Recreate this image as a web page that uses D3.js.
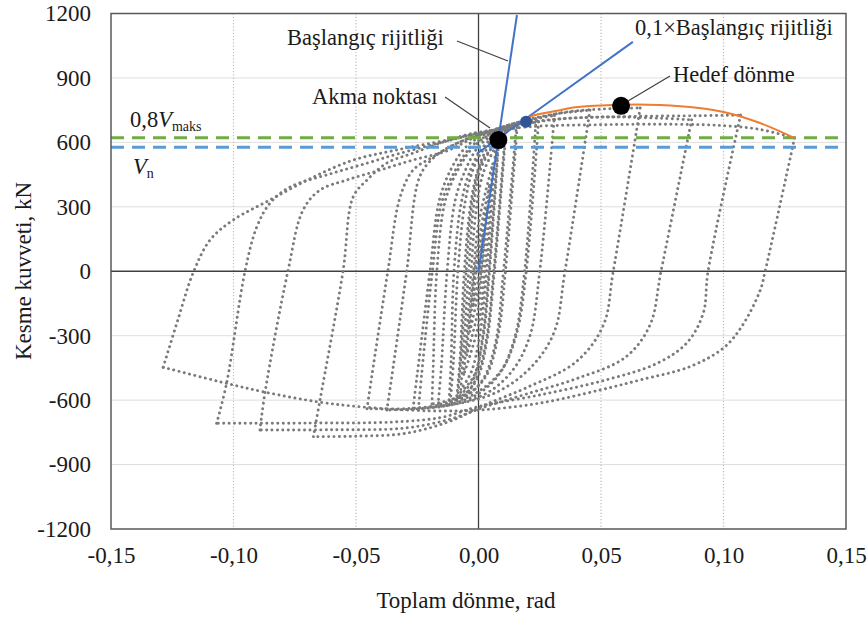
<!DOCTYPE html>
<html>
<head>
<meta charset="utf-8">
<script src="https://cdn.jsdelivr.net/npm/d3@7"></script>
<style>
  body { margin: 0; background: #fff; }
  text { font-family: "Liberation Serif", "Times New Roman", serif; fill: #1a1a1a; }
</style>
</head>
<body>
<div id="chart"></div>
<script>
// axis ticks
var xTicks = [-0.15, -0.10, -0.05, 0, 0.05, 0.10, 0.15];
var yTicks = [-1200, -900, -600, -300, 0, 300, 600, 900, 1200];

// reloading branches (negative peak -> next positive peak), [rotation rad, shear kN]
var reloadBranches = [
    [[0, 0], [0.002, 170]],
    [[-0.0022, -160], [-0.001, 0], [0.0032, 290]],
    [[-0.0035, -280], [-0.0015, 0], [0.001, 200], [0.0045, 400]],
    [[-0.0048, -390], [-0.0035, -200], [-0.002, 0], [0, 220], [0.0058, 500]],
    [[-0.006, -480], [-0.0045, -250], [-0.003, 0], [-0.001, 280], [0.002, 460], [0.007, 580]],
    [[-0.0072, -550], [-0.006, -350], [-0.004, 0], [-0.002, 300], [0.001, 480], [0.0082, 625]],
    [[-0.0085, -590], [-0.007, -380], [-0.005, 0], [-0.0025, 330], [0.001, 500], [0.0083, 615]],
    [[-0.0088, -580], [-0.0075, -400], [-0.0058, 0], [-0.003, 330], [0, 480], [0.004, 580], [0.011, 655]],
    [[-0.0115, -605], [-0.0102, -420], [-0.0084, 0], [-0.0055, 320], [-0.002, 480], [0.003, 580], [0.0112, 645]],
    [[-0.012, -598], [-0.0112, -420], [-0.0100, 0], [-0.007, 320], [-0.003, 480], [0.002, 580], [0.008, 640], [0.0155, 680]],
    [[-0.0165, -620], [-0.0152, -450], [-0.0128, 0], [-0.0095, 330], [-0.005, 480], [0, 580], [0.007, 640], [0.0158, 670]],
    [[-0.019, -618], [-0.0185, -450], [-0.017, 0], [-0.0135, 330], [-0.008, 480], [-0.002, 580], [0.006, 645], [0.015, 685], [0.0235, 705]],
    [[-0.0245, -640], [-0.0232, -480], [-0.0188, 0], [-0.015, 320], [-0.009, 480], [-0.003, 580], [0.005, 640], [0.015, 680], [0.0245, 695]],
    [[-0.0267, -638], [-0.025, -480], [-0.0198, 0], [-0.016, 330], [-0.011, 480], [-0.005, 580], [0.003, 640], [0.015, 690], [0.031, 725]],
    [[-0.0374, -646], [-0.0355, -500], [-0.0293, 0], [-0.024, 440], [-0.018, 532], [-0.01, 590], [0, 635], [0.015, 690], [0.03, 730], [0.0455, 750]],
    [[-0.0455, -640], [-0.0437, -500], [-0.037, 0], [-0.032, 345], [-0.0267, 471], [-0.0186, 532], [-0.008, 600], [0.005, 650], [0.02, 700], [0.035, 740], [0.05, 755], [0.066, 760]],
    [[-0.0674, -770], [-0.0647, -600], [-0.0553, 0], [-0.0512, 345], [-0.0455, 425], [-0.0374, 504], [-0.0267, 550], [-0.012, 610], [0.003, 650], [0.025, 700], [0.05, 718], [0.075, 712], [0.087, 705]],
    [[-0.0892, -739], [-0.0871, -561], [-0.0778, 0], [-0.0716, 285], [-0.0647, 378], [-0.0537, 425], [-0.0402, 471], [-0.0267, 518], [-0.013, 560], [0.002, 640], [0.03, 705], [0.06, 720], [0.09, 724], [0.107, 727]],
    [[-0.1069, -708], [-0.1028, -521], [-0.0953, 0], [-0.0905, 206], [-0.0851, 317], [-0.077, 392], [-0.06, 455], [-0.045, 505], [-0.0333, 545], [-0.015, 600], [0, 640], [0.02, 672], [0.05, 682], [0.08, 684], [0.1, 678], [0.115, 660], [0.129, 620]],
    [[-0.1287, -447], [-0.1228, -230], [-0.1165, -8], [-0.1096, 145], [-0.1002, 238], [-0.0851, 332], [-0.0675, 438], [-0.051, 518], [-0.0333, 565], [-0.0129, 611], [-0.002, 643], [0.008, 660]]
];

// unloading branches (positive peak -> negative peak)
var unloadBranches = [
    [[0.002, 170], [0.0005, 0], [-0.0022, -160]],
    [[0.0032, 290], [0.001, 0], [-0.001, -150], [-0.0035, -280]],
    [[0.0045, 400], [0.0015, 0], [-0.0005, -200], [-0.0048, -390]],
    [[0.0058, 500], [0.0025, 0], [0, -250], [-0.006, -480]],
    [[0.007, 580], [0.0033, 0], [0.0005, -300], [-0.003, -470], [-0.0072, -550]],
    [[0.0082, 625], [0.0042, 0], [0.0015, -320], [-0.002, -500], [-0.0085, -590]],
    [[0.0083, 615], [0.0045, 0], [0.002, -300], [-0.002, -490], [-0.0088, -580]],
    [[0.011, 655], [0.0062, 0], [0.003, -330], [-0.001, -500], [-0.006, -580], [-0.0115, -605]],
    [[0.0112, 645], [0.0065, 0], [0.0035, -320], [-0.0005, -500], [-0.006, -575], [-0.012, -598]],
    [[0.0155, 680], [0.0102, 0], [0.007, -330], [0.002, -500], [-0.005, -580], [-0.0165, -620]],
    [[0.0158, 670], [0.011, 0], [0.008, -300], [0.003, -490], [-0.005, -575], [-0.019, -618]],
    [[0.0235, 705], [0.0188, 0], [0.015, -300], [0.009, -470], [0, -570], [-0.012, -620], [-0.0245, -640]],
    [[0.0245, 695], [0.0195, 0], [0.0158, -280], [0.01, -450], [0, -560], [-0.012, -615], [-0.0267, -638]],
    [[0.031, 725], [0.025, 0], [0.021, -300], [0.014, -460], [0.003, -570], [-0.015, -630], [-0.0374, -646]],
    [[0.0455, 750], [0.0353, 0], [0.031, -280], [0.022, -440], [0.008, -560], [-0.01, -620], [-0.03, -640], [-0.0455, -640]],
    [[0.066, 760], [0.055, 0], [0.051, -250], [0.04, -420], [0.02, -540], [0.003, -620], [-0.012, -700], [-0.03, -755], [-0.05, -768], [-0.0674, -770]],
    [[0.087, 705], [0.0745, 0], [0.07, -250], [0.06, -400], [0.04, -500], [0.02, -570], [0.003, -630], [-0.012, -690], [-0.03, -730], [-0.06, -738], [-0.0892, -739]],
    [[0.107, 727], [0.0937, 0], [0.0917, -196], [0.085, -334], [0.073, -428], [0.052, -506], [0.025, -576], [0, -630], [-0.015, -680], [-0.035, -702], [-0.07, -707], [-0.1069, -708]],
    [[0.129, 620], [0.117, 0], [0.115, -88], [0.1074, -258], [0.0999, -358], [0.0863, -444], [0.066, -506], [0.0496, -553], [0.025, -614], [0.0006, -646], [-0.02, -650], [-0.047, -632], [-0.065, -609], [-0.0875, -562], [-0.105, -516], [-0.1287, -447]]
];

// backbone (orange) from 0.1x stiffness point to target limit
var envelope = [[0.0194, 696], [0.021, 719], [0.0333, 750], [0.0386, 762], [0.055, 774], [0.074, 774], [0.09, 760], [0.1014, 738], [0.1149, 690], [0.129, 620]];
var initialStiffness = [[0, 0], [0.0157, 1193]];
var tenthStiffness = [[-0.0007, 547], [0.063, 1068]];
var stiffnessPoint = [0.0194, 696];
var yieldPoint = [0.0081, 611];
var targetPoint = [0.0582, 770];
var vMaks08 = 622;
var vN = 577;

var serif = '"Liberation Serif", "Times New Roman", serif';

var margin = { top: 13.5, right: 21, bottom: 88, left: 111 },
    width = 867 - margin.left - margin.right,
    height = 617 - margin.top - margin.bottom;

var svg = d3.select("#chart").append("svg")
    .attr("width", 867)
    .attr("height", 617)
    .append("g")
    .attr("transform", "translate(" + margin.left + "," + margin.top + ")");

var x = d3.scaleLinear().domain([-0.15, 0.15]).range([0, width]);
var y = d3.scaleLinear().domain([-1200, 1200]).range([height, 0]);

// grid
svg.selectAll(".hgrid")
    .data(yTicks.filter(function (d) { return d != 0 && Math.abs(d) != 1200; }))
    .enter().append("line")
    .attr("x1", 0).attr("x2", width)
    .attr("y1", function (d) { return y(d); })
    .attr("y2", function (d) { return y(d); })
    .attr("stroke", "#dedede").attr("stroke-width", 1);

svg.selectAll(".vgrid")
    .data(xTicks.filter(function (d) { return d != 0 && Math.abs(d) < 0.15; }))
    .enter().append("line")
    .attr("y1", 0).attr("y2", height)
    .attr("x1", function (d) { return x(d); })
    .attr("x2", function (d) { return x(d); })
    .attr("stroke", "#bdbdbd").attr("stroke-width", 1.2)
    .attr("stroke-dasharray", "1.2,2");

// zero axes
svg.append("line").attr("x1", 0).attr("x2", width).attr("y1", y(0)).attr("y2", y(0))
    .attr("stroke", "#404040").attr("stroke-width", 1.3);
svg.append("line").attr("x1", x(0)).attr("x2", x(0)).attr("y1", 0).attr("y2", height)
    .attr("stroke", "#404040").attr("stroke-width", 1.3);

// hysteresis loops
var line = d3.line()
    .x(function (d) { return x(d[0]); })
    .y(function (d) { return y(d[1]); })
    .curve(d3.curveCatmullRom.alpha(0.5));

svg.selectAll(".branch")
    .data(reloadBranches.concat(unloadBranches))
    .enter().append("path")
    .attr("d", line)
    .attr("fill", "none")
    .attr("stroke", "#7a7a7a")
    .attr("stroke-width", 2.9)
    .attr("stroke-linecap", "round")
    .attr("stroke-dasharray", "0.1,5.3");

// limit lines
svg.append("line").attr("x1", 0).attr("x2", width).attr("y1", y(vMaks08)).attr("y2", y(vMaks08))
    .attr("stroke", "#70AD47").attr("stroke-width", 3).attr("stroke-dasharray", "13,8");
svg.append("line").attr("x1", 0).attr("x2", width).attr("y1", y(vN)).attr("y2", y(vN))
    .attr("stroke", "#5B9BD5").attr("stroke-width", 3).attr("stroke-dasharray", "13,8");

// stiffness lines
var straight = d3.line().x(function (d) { return x(d[0]); }).y(function (d) { return y(d[1]); });
svg.append("path").attr("d", straight(initialStiffness))
    .attr("fill", "none").attr("stroke", "#4472C4").attr("stroke-width", 2);
svg.append("path").attr("d", straight(tenthStiffness))
    .attr("fill", "none").attr("stroke", "#4472C4").attr("stroke-width", 2);

// envelope
svg.append("path").attr("d", line(envelope))
    .attr("fill", "none").attr("stroke", "#ED7D31").attr("stroke-width", 2);

svg.append("circle").attr("cx", x(stiffnessPoint[0])).attr("cy", y(stiffnessPoint[1]))
    .attr("r", 6).attr("fill", "#2F5597");
svg.append("circle").attr("cx", x(yieldPoint[0])).attr("cy", y(yieldPoint[1]))
    .attr("r", 9).attr("fill", "#000");
svg.append("circle").attr("cx", x(targetPoint[0])).attr("cy", y(targetPoint[1]))
    .attr("r", 9).attr("fill", "#000");

// plot frame
svg.append("rect").attr("width", width).attr("height", height)
    .attr("fill", "none").attr("stroke", "#595959").attr("stroke-width", 1.5);

// axes
function comma(d) { return d3.format(".2f")(d).replace("\u2212", "-").replace(".", ","); }

var yAxis = svg.append("g")
    .call(d3.axisLeft(y).tickValues(yTicks).tickSize(0).tickPadding(20)
        .tickFormat(function (d) { return String(d); }));
yAxis.select(".domain").remove();
yAxis.selectAll("text").style("font-size", "23px").style("font-family", serif).attr("fill", "#1a1a1a");

var xAxis = svg.append("g")
    .attr("transform", "translate(0," + height + ")")
    .call(d3.axisBottom(x).tickValues(xTicks).tickSize(0).tickPadding(18).tickFormat(comma));
xAxis.select(".domain").remove();
xAxis.selectAll("text").style("font-size", "23px").style("font-family", serif).attr("fill", "#1a1a1a");

// axis titles
svg.append("text")
    .attr("x", 466 - margin.left).attr("y", 608 - margin.top)
    .attr("text-anchor", "middle").style("font-size", "23px")
    .text("Toplam dönme, rad");

svg.append("text")
    .attr("transform", "translate(" + (31 - margin.left) + "," + (271 - margin.top) + ") rotate(-90)")
    .attr("text-anchor", "middle").style("font-size", "23px")
    .text("Kesme kuvveti, kN");

// annotations (page coordinates)
var notes = svg.append("g").attr("transform", "translate(" + (-margin.left) + "," + (-margin.top) + ")");

function leader(x1, y1, x2, y2) {
    notes.append("line").attr("x1", x1).attr("y1", y1).attr("x2", x2).attr("y2", y2)
        .attr("stroke", "#404040").attr("stroke-width", 1.2);
}

notes.append("text").attr("x", 287).attr("y", 45).style("font-size", "22.5px").text("Başlangıç rijitliği");
leader(457, 41, 508, 61);

notes.append("text").attr("x", 635).attr("y", 35).style("font-size", "22.5px").text("0,1×Başlangıç rijitliği");

notes.append("text").attr("x", 312).attr("y", 104).style("font-size", "22.5px").text("Akma noktası");
leader(445, 97, 490, 128);

notes.append("text").attr("x", 673).attr("y", 82).style("font-size", "22.5px").text("Hedef dönme");
leader(670, 76, 628, 101);

var t1 = notes.append("text").attr("x", 130).attr("y", 127).style("font-size", "22.5px");
t1.append("tspan").text("0,8");
t1.append("tspan").style("font-style", "italic").text("V");
t1.append("tspan").attr("dy", 4).style("font-size", "14px").text("maks");

var t2 = notes.append("text").attr("x", 133).attr("y", 174).style("font-size", "22.5px");
t2.append("tspan").style("font-style", "italic").text("V");
t2.append("tspan").attr("dy", 4).style("font-size", "14px").text("n");
</script>
</body>
</html>
